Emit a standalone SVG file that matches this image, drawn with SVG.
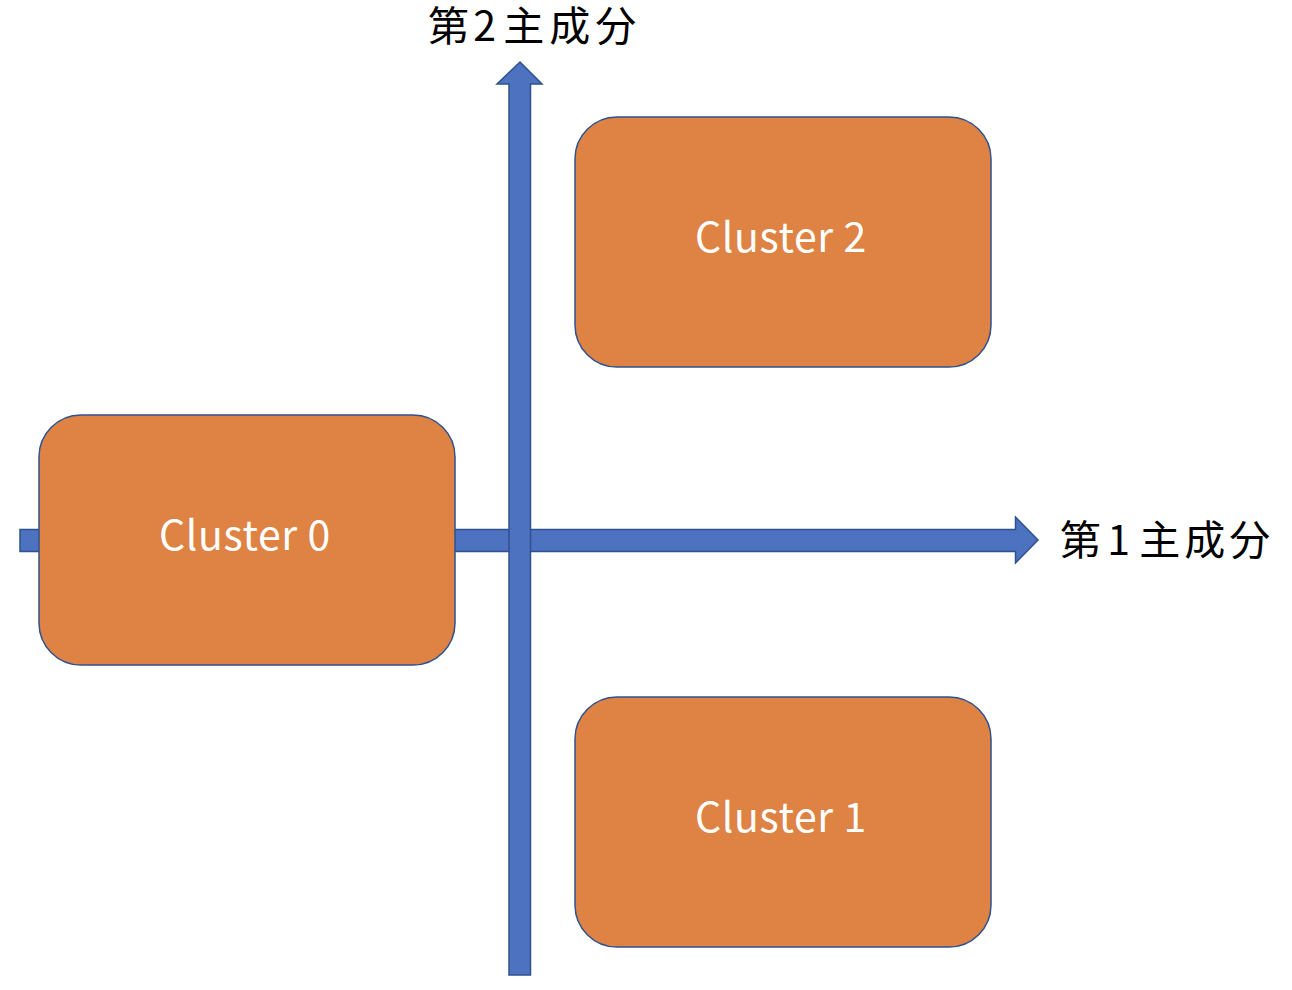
<svg xmlns="http://www.w3.org/2000/svg" width="1292" height="990" viewBox="0 0 1292 990">
<style>
.arrow{fill:#4D72BF;stroke:#2F528F;stroke-width:1.5}
.box{fill:#DE8344;stroke:#2F528F;stroke-width:1.5}
.lbl{font-family:"Noto Sans CJK JP","Noto Sans",sans-serif;font-size:41px;fill:#FFFFFF;text-anchor:middle;letter-spacing:0.6px}
.axis{font-family:"Noto Sans CJK JP","Noto Sans",sans-serif;font-size:41px;fill:#000000}
</style>
<rect width="1292" height="990" fill="#FFFFFF"/>
<g id="connectors">
<polygon class="arrow" points="20,529.5 1015.5,529.5 1015.5,517 1038,540 1015.5,563 1015.5,551.5 20,551.5"/>
<polygon class="arrow" points="509,975 509,84 497,84 520,62 542,84 530.5,84 530.5,975"/>
</g>
<g id="cluster2">
<rect class="box" x="575" y="117" width="416" height="250" rx="42" ry="42"/>
<text class="lbl" x="781" y="252">Cluster 2</text>
</g>
<g id="cluster0">
<rect class="box" x="39" y="415" width="416" height="250" rx="42" ry="42"/>
<text class="lbl" x="245" y="550">Cluster 0</text>
</g>
<g id="cluster1">
<rect class="box" x="575" y="697" width="416" height="250" rx="42" ry="42"/>
<text class="lbl" x="781" y="832">Cluster 1</text>
</g>
<g id="axis2">
<text class="axis" x="428" y="41" dx="0 0 -5 0 -2 5 5">第 2 主成分</text>
</g>
<g id="axis1">
<text class="axis" x="1060" y="555" dx="0 0 -3 0 0 4 4">第 1 主成分</text>
</g>
</svg>
